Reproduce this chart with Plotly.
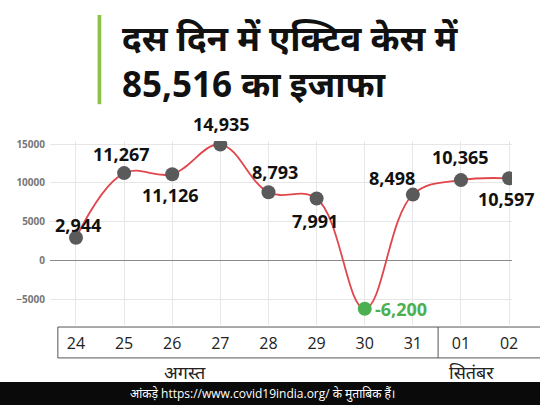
import plotly.graph_objects as go

DAYS = ["24", "25", "26", "27", "28", "29", "30", "31", "01", "02"]
ACTIVE_CHANGE = [2944, 11267, 11126, 14935, 8793, 7991, -6200, 8498, 10365, 10597]
LABELS = ["2,944", "11,267", "11,126", "14,935", "8,793", "7,991", "-6,200", "8,498", "10,365", "10,597"]
MONTHS = ["अगस्त", "सितंबर"]
TITLE_LINES = ["दस दिन में एक्टिव केस में", "85,516 का इजाफा"]
SOURCE = "आंकड़े https://www.covid19india.org/ के मुताबिक हैं।"

RED = "#e0474c"
GREY_DOT = "#5a5a5a"
GREEN = "#4caf50"
FONT = "Open Sans, Noto Sans, sans-serif"

x = list(range(len(DAYS)))
marker_colors = [GREEN if v < 0 else GREY_DOT for v in ACTIVE_CHANGE]

fig = go.Figure()
fig.add_trace(
    go.Scatter(
        x=x,
        y=ACTIVE_CHANGE,
        mode="lines+markers",
        line={"color": RED, "width": 1.8, "shape": "spline", "smoothing": 1.1},
        marker={"size": 14, "color": marker_colors},
        hoverinfo="skip",
    )
)

# label offsets in pixels (xshift, yshift) per point
offsets = [(2, 13), (-3, 19), (-2, -21), (1, 21), (7, 20), (-2, -22), (36, 0), (-21, 17), (0, 23), (-3, -21)]
for i, (val, lab) in enumerate(zip(ACTIVE_CHANGE, LABELS)):
    dx, dy = offsets[i]
    fig.add_annotation(
        x=x[i], y=val, text=f"<b>{lab}</b>", showarrow=False,
        xshift=dx, yshift=dy, xanchor="center", yanchor="middle",
        font={"family": FONT, "size": 18, "color": GREEN if val < 0 else "#111111"},
    )

# title with green bar
fig.add_shape(type="rect", xref="paper", yref="paper",
              x0=0.103, x1=0.111, y0=1.2, y1=1.685,
              fillcolor="#8bc34a", line_width=0, layer="above")
for j, line in enumerate(TITLE_LINES):
    fig.add_annotation(
        xref="paper", yref="paper", x=0.152, y=[1.56, 1.31][j],
        text=f"<b>{line}</b>", showarrow=False, xanchor="left", yanchor="middle",
        font={"family": FONT, "size": 35, "color": "#111111"},
    )

# date box under the plot
box = {"xref": "paper", "yref": "paper", "line": {"color": "#555555", "width": 1}}
fig.add_shape(type="line", x0=0.017, x1=1.07, y0=-0.011, y1=-0.011, **box)
fig.add_shape(type="line", x0=0.017, x1=1.07, y0=-0.179, y1=-0.179, **box)
fig.add_shape(type="line", x0=0.017, x1=0.017, y0=-0.011, y1=-0.179, **box)
fig.add_shape(type="line", x0=0.84, x1=0.84, y0=-0.011, y1=-0.179, **box)

for name, xp in zip(MONTHS, [0.292, 0.913]):
    fig.add_annotation(
        xref="paper", yref="paper", x=xp, y=-0.258, text=name, showarrow=False,
        xanchor="center", yanchor="middle",
        font={"family": FONT, "size": 18, "color": "#222222"},
    )

# footer
fig.add_shape(type="rect", xref="paper", yref="paper",
              x0=-0.2, x1=1.2, y0=-0.31, y1=-0.5,
              fillcolor="#0a0a0a", line_width=0, layer="above")
fig.add_annotation(
    xref="paper", yref="paper", x=0.46, y=-0.372, text=SOURCE, showarrow=False,
    xanchor="center", yanchor="middle",
    font={"family": FONT, "size": 12, "color": "#ffffff"},
)

fig.update_layout(
    width=540,
    height=405,
    margin={"l": 50, "r": 28, "t": 141, "b": 80},
    paper_bgcolor="white",
    plot_bgcolor="white",
    showlegend=False,
    xaxis={
        "range": [-0.54, 9.06],
        "tickvals": x,
        "ticktext": DAYS,
        "showgrid": True,
        "gridcolor": "#e6e6e6",
        "zeroline": False,
        "showline": False,
        "ticks": "",
        "ticklabelstandoff": 7,
        "tickfont": {"family": FONT, "size": 16, "color": "#222222"},
    },
    yaxis={
        "range": [-8300, 15400],
        "tickvals": [-5000, 0, 5000, 10000, 15000],
        "showgrid": True,
        "gridcolor": "#e6e6e6",
        "zeroline": True,
        "zerolinecolor": "#8a8a8a",
        "zerolinewidth": 1,
        "showline": False,
        "ticks": "",
        "ticklabelstandoff": 4,
        "tickformat": "d",
        "tickfont": {"family": FONT, "size": 10, "color": "#777777", "weight": "bold"},
    },
)

fig.write_html(
    "out.html",
    config={"displayModeBar": False},
    post_script="document.body.style.margin = '0';",
)
